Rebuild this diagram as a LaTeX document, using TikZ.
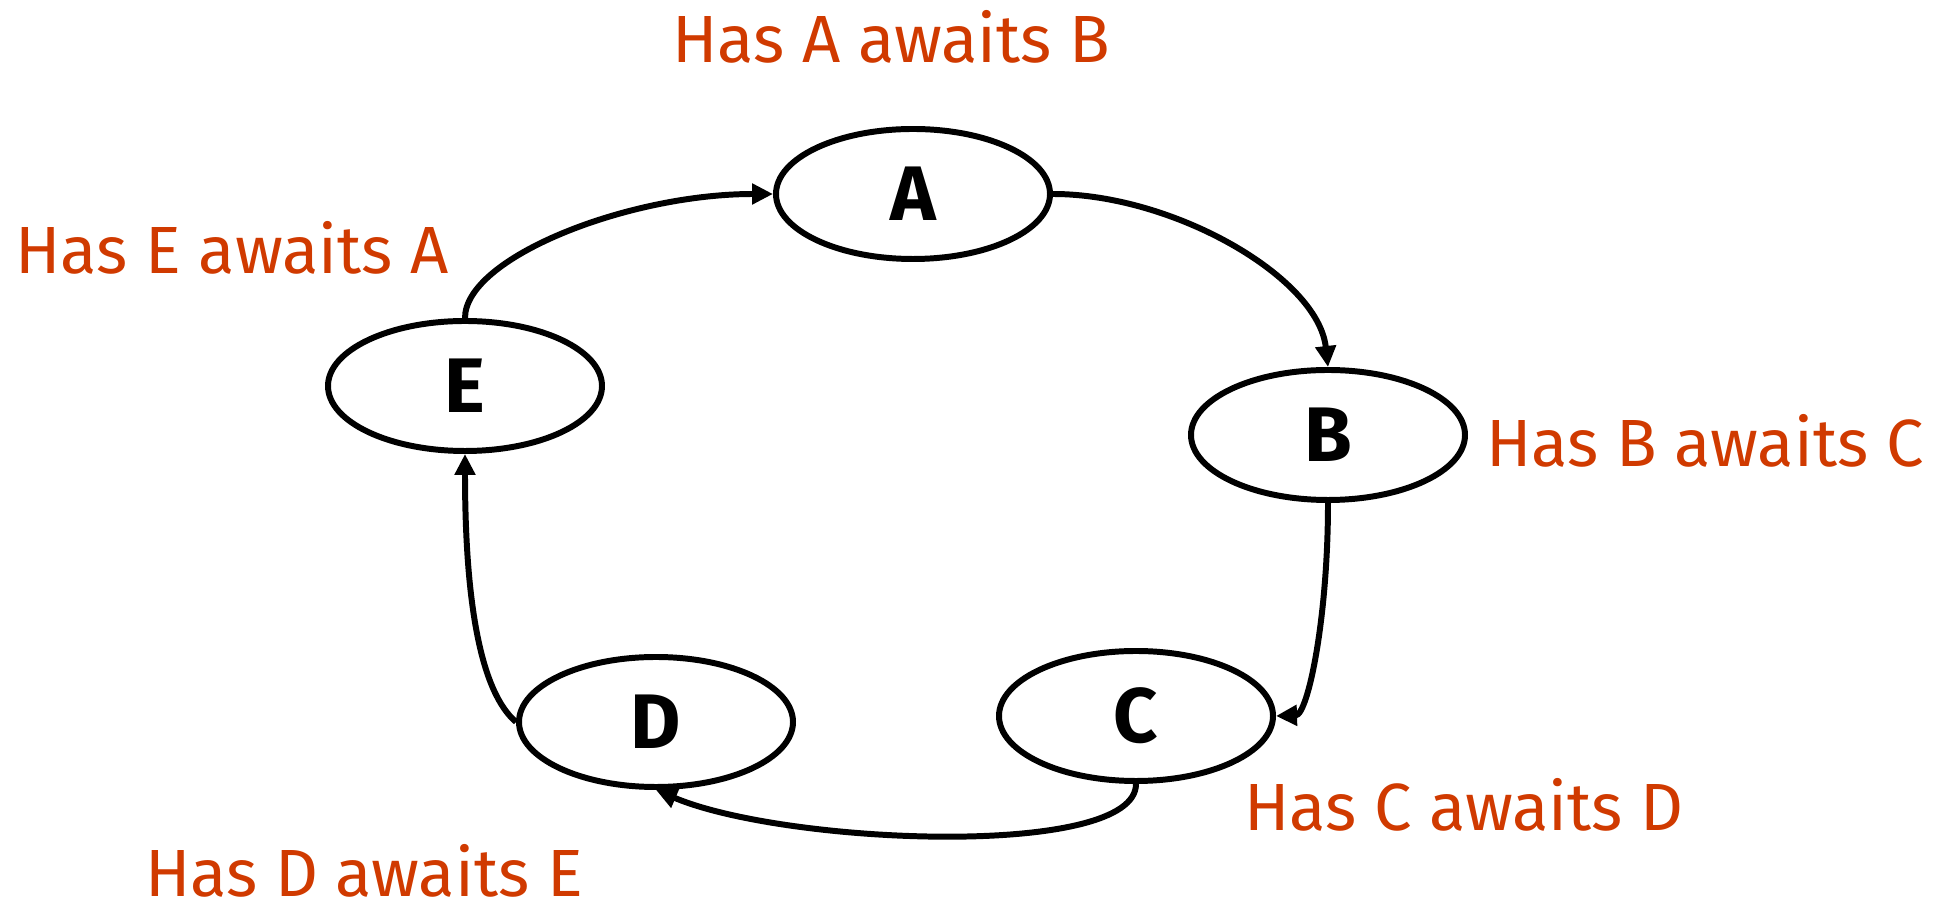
\documentclass[tikz,border=0pt]{standalone}
\usepackage{fontspec}
\setmainfont{Fira Sans}
\usepackage{tikz}
\usetikzlibrary{arrows.meta, positioning, shapes.geometric}
\definecolor{holdred}{HTML}{D03A00}

\begin{document}
\begin{tikzpicture}[line width=1.7pt, >={Triangle[length=2.1mm, width=2.0mm]},
  proc/.style={ellipse, draw, minimum width=2.74cm, minimum height=1.30cm,
    inner sep=0pt, font=\fontsize{22}{26}\selectfont\bfseries},
  holds/.style={text=holdred, font=\fontsize{19}{22}\selectfont}]
\useasboundingbox (0,0) rectangle (19.48,9.15);

% Processes
\node[proc] (A) at (9.13,7.21) {A};
\node[proc] (B) at (13.28,4.80) {B};
\node[proc] (C) at (11.36,1.99) {C};
\node[proc] (D) at (6.56,1.93) {D};
\node[proc] (E) at (4.65,5.29) {E};

% Wait-for cycle
\draw[->] (A.east) .. controls +(1.2,0) and +(-0.1,0.9) .. (B.north);
\draw[->] (B.south) .. controls +(0,-1.15) and +(0.32,0.01) .. (C.east);
\draw[->] (C.south) .. controls +(0,-0.75) and +(1.3,-0.55) .. (D.south);
\draw[->] (D.west) .. controls +(-0.35,0.3) and +(0,-1.5) .. (E.south);
\draw[->] (E.north) .. controls +(0,0.6) and +(-1.46,0) .. (A.west);

% Held / awaited resources
\node[holds] (hA) at (8.91,8.78) {Has A awaits B};
\node[holds] (hB) at (17.05,4.74) {Has B awaits C};
\node[holds] (hC) at (14.64,1.10) {Has C awaits D};
\node[holds] (hD) at (3.64,0.44) {Has D awaits E};
\node[holds] (hE) at (2.32,6.67) {Has E awaits A};

\end{tikzpicture}
\end{document}
